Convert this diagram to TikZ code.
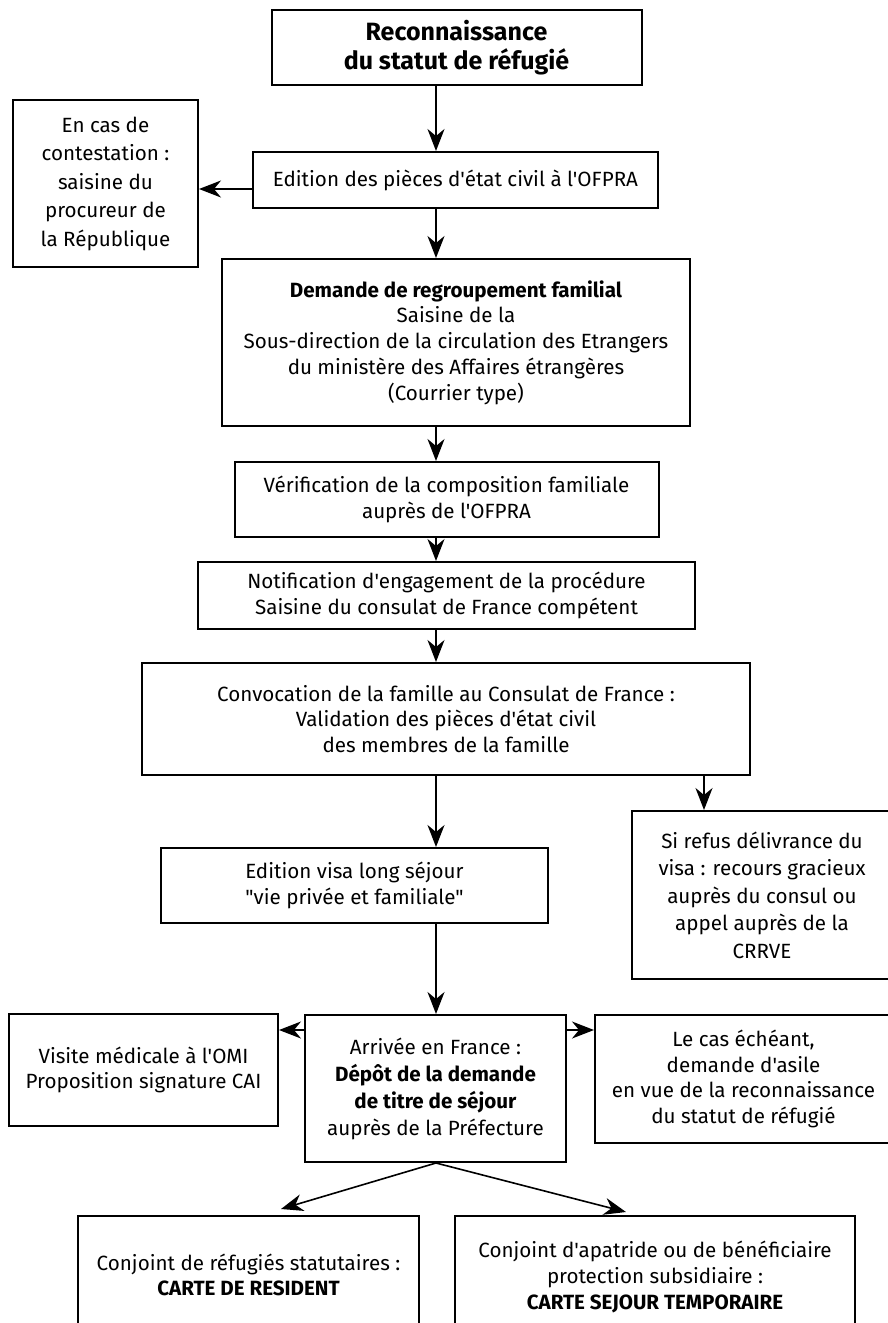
\documentclass[tikz,border=0pt]{standalone}
\usepackage{fontspec}
\setmainfont{Fira Sans}[Ligatures=TeXOff]
\usetikzlibrary{arrows.meta}

\begin{document}
\begin{tikzpicture}[x=0.5pt, y=0.5pt, >={Stealth[length=11pt, width=8.5pt, inset=3.5pt]},
	box/.style={draw, line width=1pt, align=center, inner sep=0pt, font=\fontsize{10.3}{12.85}\selectfont},
	flow/.style={->, line width=.8pt}]
	\useasboundingbox (0,0) rectangle (888,-1323);
	\coordinate (spine) at (436,0);
	\coordinate (branch) at (704,0);
	\coordinate (cont) at (0,-189);
	\coordinate (cote) at (0,-1030);
	\coordinate (tipL) at (281,-1209);
	\coordinate (tipR) at (626,-1212);
	\node[box, minimum width=185pt, minimum height=37.5pt, font=\fontsize{12.5}{14.5}\selectfont\bfseries] (statut) at (456.5,-47.5) {Reconnaissance\\du statut de réfugié};
	\node[box, minimum width=202.5pt, minimum height=28pt] (edition) at (455.5,-180) {Edition des pièces d'état civil à l'OFPRA};
	\node[box, minimum width=92.5pt, minimum height=83.5pt, font=\fontsize{10.3}{14.25}\selectfont] (procureur) at (105.5,-183.5) {En cas de\\contestation :\\saisine du\\procureur de\\la République};
	\node[box, minimum width=234pt, minimum height=83.5pt] (demande) at (456,-342.5) {\textbf{Demande de regroupement familial}\\Saisine de la\\Sous-direction de la circulation des Etrangers\\du ministère des Affaires étrangères\\(Courrier type)};
	\node[box, minimum width=212pt, minimum height=37.5pt] (verif) at (446.5,-499.5) {Vérification de la composition familiale\\auprès de l'OFPRA};
	\node[box, minimum width=248.5pt, minimum height=33.5pt] (notif) at (446.5,-595.5) {Notification d'engagement de la procédure\\Saisine du consulat de France compétent};
	\node[box, minimum width=304pt, minimum height=56pt] (convoc) at (446,-719) {Convocation de la famille au Consulat de France :\\Validation des pièces d'état civil\\des membres de la famille};
	\node[box, minimum width=193.5pt, minimum height=37.5pt] (visa) at (354.5,-885.5) {Edition visa long séjour\\"vie privée et familiale"};
	\node[box, minimum width=130pt, minimum height=84pt, font=\fontsize{10.3}{13.75}\selectfont] (refus) at (762,-895) {Si refus délivrance du\\visa : recours gracieux\\auprès du consul ou\\appel auprès de la\\CRRVE};
	\node[box, minimum width=130.5pt, minimum height=73.5pt, font=\fontsize{10.3}{13.5}\selectfont] (arrivee) at (435.5,-1088.5) {Arrivée en France :\\\textbf{Dépôt de la demande}\\\textbf{de titre de séjour}\\auprès de la Préfecture};
	\node[box, minimum width=134.5pt, minimum height=56pt] (visite) at (143.5,-1070) {Visite médicale à l'OMI\\Proposition signature CAI};
	\node[box, minimum width=148.5pt, minimum height=64pt] (asile) at (743.5,-1079) {Le cas échéant,\\demande d'asile\\en vue de la reconnaissance\\du statut de réfugié};
	\node[box, minimum width=170.5pt, minimum height=59pt] (resident) at (248.5,-1275) {Conjoint de réfugiés statutaires :\\\textbf{CARTE DE RESIDENT}};
	\node[box, minimum width=200pt, minimum height=61pt] (temporaire) at (655,-1277) {Conjoint d'apatride ou de bénéficiaire\\protection subsidiaire :\\\textbf{CARTE SEJOUR TEMPORAIRE}};
	\draw[flow] (statut.south -| spine) -- (edition.north -| spine);
	\draw[flow] (edition.west |- cont) -- (procureur.east |- cont);
	\draw[flow] (edition.south -| spine) -- (demande.north -| spine);
	\draw[flow] (demande.south -| spine) -- (verif.north -| spine);
	\draw[flow] (verif.south -| spine) -- (notif.north -| spine);
	\draw[flow] (notif.south -| spine) -- (convoc.north -| spine);
	\draw[flow] (convoc.south -| spine) -- (visa.north -| spine);
	\draw[flow] (convoc.south -| branch) -- (refus.north -| branch);
	\draw[flow] (visa.south -| spine) -- (arrivee.north -| spine);
	\draw[flow] (arrivee.west |- cote) -- (visite.east |- cote);
	\draw[flow] (arrivee.east |- cote) -- (asile.west |- cote);
	\draw[flow] (arrivee.south -| spine) -- (tipL);
	\draw[flow] (arrivee.south -| spine) -- (tipR);
\end{tikzpicture}
\end{document}
